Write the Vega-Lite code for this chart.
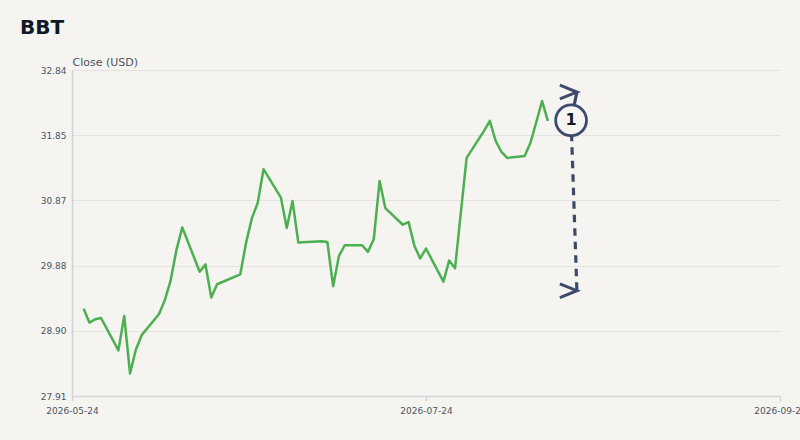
{
  "$schema": "https://vega.github.io/schema/vega-lite/v6.json",
  "width": 708,
  "height": 326,
  "autosize": {"type": "none"},
  "padding": {"left": 72, "top": 70, "right": 20, "bottom": 44},
  "background": "#f5f4f0",
  "title": {
    "text": "BBT",
    "anchor": "start",
    "frame": "group",
    "font": "DejaVu Sans",
    "fontSize": 20,
    "fontWeight": "bold",
    "color": "#111827",
    "dx": -52,
    "offset": 18
  },
  "datasets": {
    "prices": [
      {"date": "2026-05-26", "close": 29.23},
      {"date": "2026-05-27", "close": 29.02},
      {"date": "2026-05-28", "close": 29.07},
      {"date": "2026-05-29", "close": 29.09},
      {"date": "2026-06-01", "close": 28.60},
      {"date": "2026-06-02", "close": 29.12},
      {"date": "2026-06-03", "close": 28.25},
      {"date": "2026-06-04", "close": 28.61},
      {"date": "2026-06-05", "close": 28.83},
      {"date": "2026-06-08", "close": 29.15},
      {"date": "2026-06-09", "close": 29.36},
      {"date": "2026-06-10", "close": 29.66},
      {"date": "2026-06-11", "close": 30.12},
      {"date": "2026-06-12", "close": 30.46},
      {"date": "2026-06-15", "close": 29.79},
      {"date": "2026-06-16", "close": 29.90},
      {"date": "2026-06-17", "close": 29.40},
      {"date": "2026-06-18", "close": 29.60},
      {"date": "2026-06-22", "close": 29.75},
      {"date": "2026-06-23", "close": 30.23},
      {"date": "2026-06-24", "close": 30.60},
      {"date": "2026-06-25", "close": 30.83},
      {"date": "2026-06-26", "close": 31.34},
      {"date": "2026-06-29", "close": 30.91},
      {"date": "2026-06-30", "close": 30.45},
      {"date": "2026-07-01", "close": 30.86},
      {"date": "2026-07-02", "close": 30.23},
      {"date": "2026-07-06", "close": 30.25},
      {"date": "2026-07-07", "close": 30.24},
      {"date": "2026-07-08", "close": 29.57},
      {"date": "2026-07-09", "close": 30.03},
      {"date": "2026-07-10", "close": 30.19},
      {"date": "2026-07-13", "close": 30.19},
      {"date": "2026-07-14", "close": 30.09},
      {"date": "2026-07-15", "close": 30.28},
      {"date": "2026-07-16", "close": 31.16},
      {"date": "2026-07-17", "close": 30.75},
      {"date": "2026-07-20", "close": 30.50},
      {"date": "2026-07-21", "close": 30.54},
      {"date": "2026-07-22", "close": 30.18},
      {"date": "2026-07-23", "close": 29.99},
      {"date": "2026-07-24", "close": 30.14},
      {"date": "2026-07-27", "close": 29.64},
      {"date": "2026-07-28", "close": 29.96},
      {"date": "2026-07-29", "close": 29.84},
      {"date": "2026-07-30", "close": 30.68},
      {"date": "2026-07-31", "close": 31.51},
      {"date": "2026-08-03", "close": 31.92},
      {"date": "2026-08-04", "close": 32.07},
      {"date": "2026-08-05", "close": 31.77},
      {"date": "2026-08-06", "close": 31.60},
      {"date": "2026-08-07", "close": 31.51},
      {"date": "2026-08-10", "close": 31.54},
      {"date": "2026-08-11", "close": 31.74},
      {"date": "2026-08-12", "close": 32.05},
      {"date": "2026-08-13", "close": 32.37},
      {"date": "2026-08-14", "close": 32.07}
    ],
    "arrows": [
      {"date": "2026-08-18", "close": 32.079, "date2": "2026-08-19", "close2": 32.507, "kind": "solid"},
      {"date": "2026-08-18", "close": 32.079, "date2": "2026-08-19", "close2": 29.502, "kind": "dashed"}
    ],
    "heads": [
      {"date": "2026-08-19", "close": 32.507},
      {"date": "2026-08-19", "close": 29.502}
    ],
    "marker": [
      {"date": "2026-08-18", "close": 32.079, "label": "1"}
    ]
  },
  "encoding": {
    "x": {
      "field": "date",
      "type": "temporal",
      "scale": {
        "type": "utc",
        "domain": [
          {"year": 2026, "month": 5, "date": 24, "utc": true},
          {"year": 2026, "month": 9, "date": 23, "utc": true}
        ]
      },
      "axis": {
        "title": null,
        "grid": false,
        "format": "%Y-%m-%d",
        "values": [
          {"year": 2026, "month": 5, "date": 24, "utc": true},
          {"year": 2026, "month": 7, "date": 24, "utc": true},
          {"year": 2026, "month": 9, "date": 23, "utc": true}
        ],
        "labelFlush": false,
        "labelOverlap": false,
        "tickSize": 5,
        "labelPadding": 5
      }
    },
    "y": {
      "field": "close",
      "type": "quantitative",
      "scale": {"domain": [27.91, 32.84], "nice": false, "zero": false},
      "axis": {
        "title": "Close (USD)",
        "titleAngle": 0,
        "titleAlign": "left",
        "titleBaseline": "alphabetic",
        "titleX": 0,
        "titleY": -5,
        "titleFontSize": 11,
        "titleFontWeight": "normal",
        "titleColor": "#4b5563",
        "values": [27.91, 28.896, 29.882, 30.868, 31.854, 32.84],
        "format": ".2f",
        "grid": true,
        "ticks": false,
        "tickSize": 0,
        "labelPadding": 6
      }
    }
  },
  "layer": [
    {
      "data": {"name": "prices"},
      "mark": {"type": "line", "color": "#4caf50", "strokeWidth": 2.5, "strokeJoin": "round"}
    },
    {
      "data": {"name": "arrows"},
      "mark": {"type": "rule", "color": "#3d4a6b", "strokeWidth": 3.2},
      "encoding": {
        "x2": {"field": "date2"},
        "y2": {"field": "close2"},
        "strokeDash": {
          "field": "kind",
          "type": "nominal",
          "scale": {"domain": ["solid", "dashed"], "range": [[1, 0], [7.5, 6]]},
          "legend": null
        }
      }
    },
    {
      "data": {"name": "heads"},
      "mark": {
        "type": "point",
        "shape": "M-1,-0.4L0,0L-1,0.4",
        "filled": false,
        "size": 1156,
        "stroke": "#3d4a6b",
        "strokeWidth": 3,
        "opacity": 1
      }
    },
    {
      "data": {"name": "marker"},
      "mark": {
        "type": "point",
        "shape": "circle",
        "filled": true,
        "fill": "#f5f4f0",
        "stroke": "#3d4a6b",
        "strokeWidth": 2.8,
        "size": 950,
        "opacity": 1
      }
    },
    {
      "data": {"name": "marker"},
      "mark": {
        "type": "text",
        "font": "DejaVu Sans",
        "fontSize": 16,
        "fontWeight": "bold",
        "color": "#111827",
        "align": "center",
        "baseline": "middle"
      },
      "encoding": {"text": {"field": "label"}}
    }
  ],
  "config": {
    "view": {"stroke": null},
    "font": "DejaVu Sans",
    "axis": {
      "labelFont": "DejaVu Sans",
      "labelFontSize": 9,
      "labelColor": "#4b5563",
      "titleFont": "DejaVu Sans",
      "domainColor": "#d1d4d8",
      "domainWidth": 1.6,
      "tickColor": "#d1d4d8",
      "tickWidth": 1.4,
      "gridColor": "#e4e3df",
      "gridWidth": 1
    }
  }
}
